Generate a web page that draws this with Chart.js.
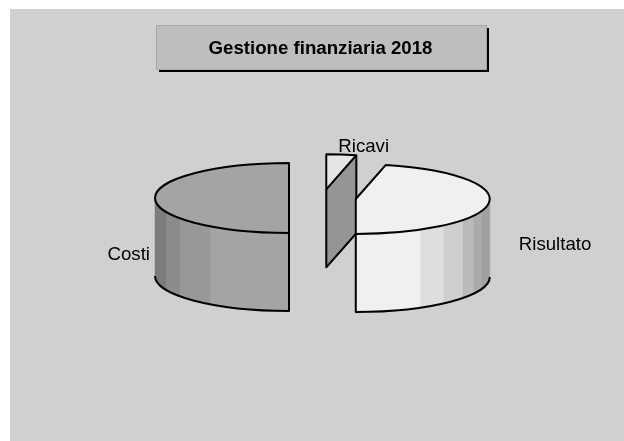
<!DOCTYPE html>
<html>
<head>
<meta charset="utf-8">
<script src="https://cdn.jsdelivr.net/npm/chart.js@4/dist/chart.umd.js"></script>
<style>
  html, body { margin: 0; background: #fff; overflow: hidden; }
  #panel { position: absolute; left: 10px; top: 9px; width: 614px; height: 432px; background: #d0d0d0; }
</style>
</head>
<body>
<div id="panel"><canvas id="chart3d" width="614" height="432"></canvas></div>
<script>
const titleText = 'Gestione finanziaria 2018';
const categories = ['Ricavi', 'Risultato', 'Costi'];
const shares = [3.6, 46.4, 50];

// look of the fake 3D pie
const topColors = ['#e6e6e6', '#f0f0f0', '#a4a4a4'];
const cutColor = '#959595';
const squash = 0.261;
const depth = 78;
const explode = 33.5;
// wall shading, each step runs up to a fraction of the radius away from the slice centre
const wallBands = {
  Risultato: [[0.485, '#f0f0f0'], [0.657, '#dedede'], [0.8, '#cfcfcf'], [0.88, '#bbbbbb'], [0.94, '#ababab'], [1, '#a0a0a0']],
  Costi: [[0.59, '#a4a4a4'], [0.813, '#989898'], [0.918, '#8c8c8c'], [1, '#7c7c7c']]
};
// where the labels sit relative to the centre of their slice
const labelPlace = {
  Ricavi: { dx: 12, dy: -42.5, align: 'left' },
  Risultato: { dx: 163, dy: 46, align: 'left' },
  Costi: { dx: -139, dy: 57, align: 'right' }
};

function wallStep(ctx, x, y, r, from, to, color) {
  ctx.beginPath();
  ctx.ellipse(x, y, r, r * squash, 0, from, to);
  ctx.ellipse(x, y + depth, r, r * squash, 0, to, from, true);
  ctx.closePath();
  ctx.fillStyle = color;
  ctx.strokeStyle = color;
  ctx.lineWidth = 0.5;
  ctx.fill();
  ctx.stroke();
}

function drawSlice(ctx, arc, name) {
  const mid = (arc.startAngle + arc.endAngle) / 2;
  const x = arc.x + Math.cos(mid) * explode;
  const y = arc.y + Math.sin(mid) * explode * squash;
  const r = arc.outerRadius;
  const ry = r * squash;
  const a0 = arc.startAngle;
  const a1 = arc.endAngle;
  const onRim = (a) => [x + Math.cos(a) * r, y + Math.sin(a) * ry];

  // curved wall, only the part turned to the viewer
  const bands = wallBands[name];
  if (bands) {
    let prev = 0;
    bands.forEach(([upto, color]) => {
      if (Math.cos(mid) > 0) {
        wallStep(ctx, x, y, r, Math.acos(upto), Math.acos(prev), color);
      } else {
        wallStep(ctx, x, y, r, Math.PI - Math.acos(prev), Math.PI - Math.acos(upto), color);
      }
      prev = upto;
    });
  }

  // cut face at the end of the slice, when it looks at us
  const showCut = Math.cos(a1) > 0.01;
  if (showCut) {
    const [ex, ey] = onRim(a1);
    ctx.beginPath();
    ctx.moveTo(x, y);
    ctx.lineTo(ex, ey);
    ctx.lineTo(ex, ey + depth);
    ctx.lineTo(x, y + depth);
    ctx.closePath();
    ctx.fillStyle = cutColor;
    ctx.fill();
  }

  // top face is the library's own arc, flattened
  ctx.save();
  ctx.translate(x, y);
  ctx.scale(1, squash);
  ctx.translate(-arc.x, -arc.y);
  arc.draw(ctx);
  ctx.restore();

  // outlines, drawn after the squash so that the pen stays even
  ctx.strokeStyle = '#000';
  ctx.lineWidth = 2;
  ctx.lineJoin = 'round';
  ctx.beginPath();
  ctx.moveTo(x, y);
  ctx.ellipse(x, y, r, ry, 0, a0, a1);
  ctx.closePath();
  ctx.stroke();

  if (showCut) {
    const [ex, ey] = onRim(a1);
    ctx.beginPath();
    ctx.moveTo(x, y);
    ctx.lineTo(x, y + depth);
    ctx.lineTo(ex, ey + depth);
    ctx.lineTo(ex, ey);
    ctx.stroke();
  }
  if (bands) {
    const down = Math.PI / 2;
    ctx.beginPath();
    ctx.moveTo(x, y + ry);
    ctx.lineTo(x, y + ry + depth);
    if (Math.cos(mid) > 0) {
      ctx.ellipse(x, y + depth, r, ry, 0, down, 0, true);
    } else {
      ctx.ellipse(x, y + depth, r, ry, 0, down, Math.PI);
    }
    ctx.stroke();
  }

  // label
  const place = labelPlace[name];
  ctx.fillStyle = '#000';
  ctx.font = '18.67px "Liberation Sans"';
  ctx.textAlign = place.align;
  ctx.textBaseline = 'middle';
  ctx.fillText(name, x + place.dx, y + place.dy);
}

const pie3d = {
  id: 'pie3d',
  afterLayout(chart) {
    chart.titleBlock.left -= 4;
  },
  beforeDraw(chart) {
    // box behind the title
    const ctx = chart.ctx;
    ctx.save();
    ctx.fillStyle = '#000';
    ctx.fillRect(149, 19, 330, 44);
    ctx.fillStyle = '#bebebe';
    ctx.strokeStyle = '#a8a8a8';
    ctx.lineWidth = 1;
    ctx.fillRect(146, 16, 331, 45);
    ctx.strokeRect(146.5, 16.5, 330, 44);
    ctx.restore();
  },
  beforeDatasetsDraw(chart) {
    const ctx = chart.ctx;
    const arcs = chart.getDatasetMeta(0).data;
    ctx.save();
    arcs.forEach((arc, i) => drawSlice(ctx, arc, categories[i]));
    ctx.restore();
    return false;
  }
};

new Chart(document.getElementById('chart3d'), {
  type: 'pie',
  data: {
    labels: categories,
    datasets: [{
      data: shares,
      backgroundColor: topColors,
      borderWidth: 0,
      radius: 134
    }]
  },
  options: {
    responsive: false,
    animation: false,
    events: [],
    layout: { padding: { left: 11, right: 0, top: 0, bottom: 114.4 } },
    plugins: {
      legend: { display: false },
      tooltip: { enabled: false },
      title: {
        display: true,
        text: titleText,
        color: '#000',
        font: { family: '"Liberation Sans"', size: 18.67, weight: 'bold' },
        padding: { top: 29, bottom: 9 }
      }
    }
  },
  plugins: [pie3d]
});
</script>
</body>
</html>
